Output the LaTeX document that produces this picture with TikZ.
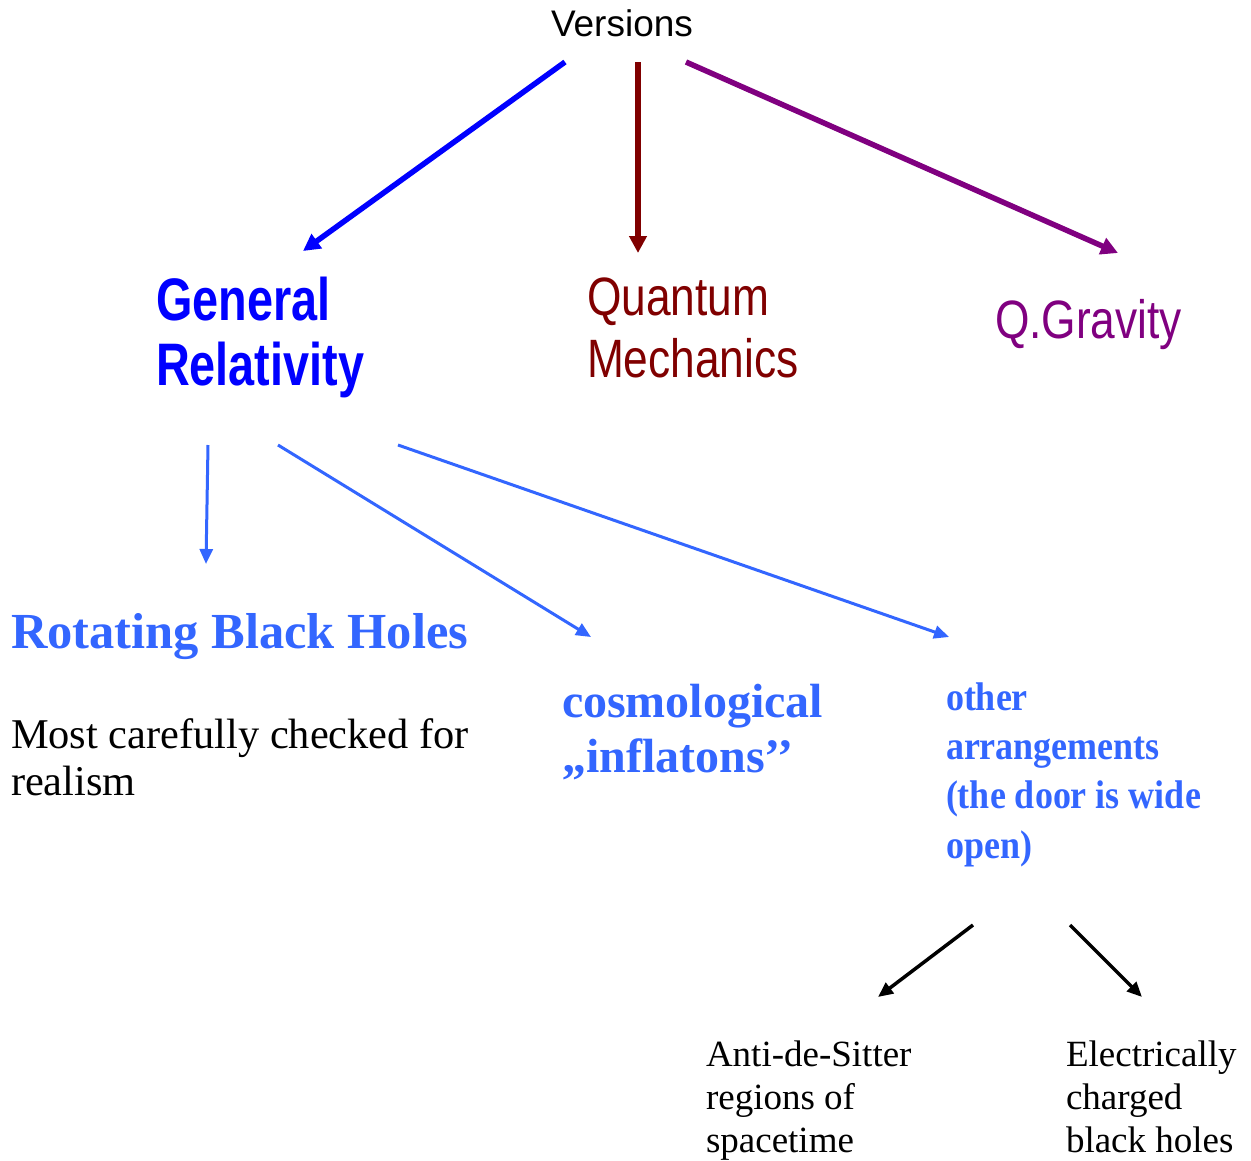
\documentclass[tikz,border=0pt]{standalone}
\usepackage{fontspec}
\setmainfont{Liberation Serif}
\newfontfamily\narrowsans{Liberation Sans}[FakeStretch=0.82]
\newfontfamily\narrowbold{Liberation Sans Bold}[FakeStretch=0.78]
\newfontfamily\plainsans{Liberation Sans}
\newfontfamily\condserif{Liberation Serif}[FakeStretch=0.9]
\usetikzlibrary{arrows.meta}
\definecolor{grblue}{RGB}{0,0,255}
\definecolor{qmred}{RGB}{128,0,0}
\definecolor{qgpurple}{RGB}{128,0,128}
\definecolor{lblue}{RGB}{51,102,255}
\tikzset{
  txt/.style={inner sep=0pt, outer sep=0pt, anchor=base west, align=left},
  thickarr/.style={line width=5.5pt, -{Triangle[length=17pt,width=17pt]}},
  thinarr/.style={line width=3pt, -{Triangle[length=15pt,width=13pt]}},
}
\begin{document}
\begin{tikzpicture}[x=1pt,y=-1pt]
\useasboundingbox (0,0) rectangle (1251,1160);
% texts (anchor = baseline of last line)
\node[txt, font={\plainsans\fontsize{37}{40}\selectfont}] (ver) at (551,36) {Versions};
\node[txt, text=grblue, font={\narrowbold\fontsize{60}{65}\selectfont}] (gr) at (156,385) {General\\Relativity};
\node[txt, text=qmred, font={\narrowsans\fontsize{54}{62}\selectfont}] (qm) at (587,377) {Quantum\\Mechanics};
\node[txt, text=qgpurple, font={\narrowsans\fontsize{54}{62}\selectfont}] (qg) at (995,338) {Q.Gravity};
\node[txt, text=lblue, font={\bfseries\fontsize{50.5}{55}\selectfont}] (rbh) at (11,648) {Rotating Black Holes};
\node[txt, font={\fontsize{42.4}{47}\selectfont}] (most) at (11,795) {Most carefully checked for\\realism};
\node[txt, text=lblue, font={\bfseries\fontsize{48}{55}\selectfont}] (cos) at (562,772) {cosmological\\,,inflatons’’};
\node[txt, text=lblue, font={\condserif\bfseries\fontsize{40}{49.3}\selectfont}] (oth) at (946,858) {other\\arrangements\\(the door is wide\\open)};
\node[txt, font={\fontsize{37}{43}\selectfont}] (ads) at (706,1152) {Anti-de-Sitter\\regions of\\spacetime};
\node[txt, font={\fontsize{37}{43}\selectfont}] (ecb) at (1066,1152) {Electrically\\charged\\black holes};
% connector end points
\coordinate (v1) at (565,62);
\coordinate (v2) at (638,62);
\coordinate (v3) at (686,62);
\coordinate (grT) at (303,251);
\coordinate (qmT) at (638,253);
\coordinate (qgT) at (1118,253);
\coordinate (g1) at (208,445);
\coordinate (g2) at (278,445);
\coordinate (g3) at (398,445);
\coordinate (rbhT) at (206,564);
\coordinate (cosT) at (591,637);
\coordinate (othT) at (949,637);
\coordinate (o1) at (973,925);
\coordinate (o2) at (1070,925);
\coordinate (adsT) at (878,997);
\coordinate (ecbT) at (1142,997);
% connectors
\draw[thickarr, grblue] (v1) -- (grT);
\draw[thickarr, qmred] (v2) -- (qmT);
\draw[thickarr, qgpurple] (v3) -- (qgT);
\draw[thinarr, lblue] (g1) -- (rbhT);
\draw[thinarr, lblue] (g2) -- (cosT);
\draw[thinarr, lblue] (g3) -- (othT);
\draw[thinarr, line width=3.5pt, black] (o1) -- (adsT);
\draw[thinarr, line width=3.5pt, black] (o2) -- (ecbT);
\end{tikzpicture}
\end{document}
